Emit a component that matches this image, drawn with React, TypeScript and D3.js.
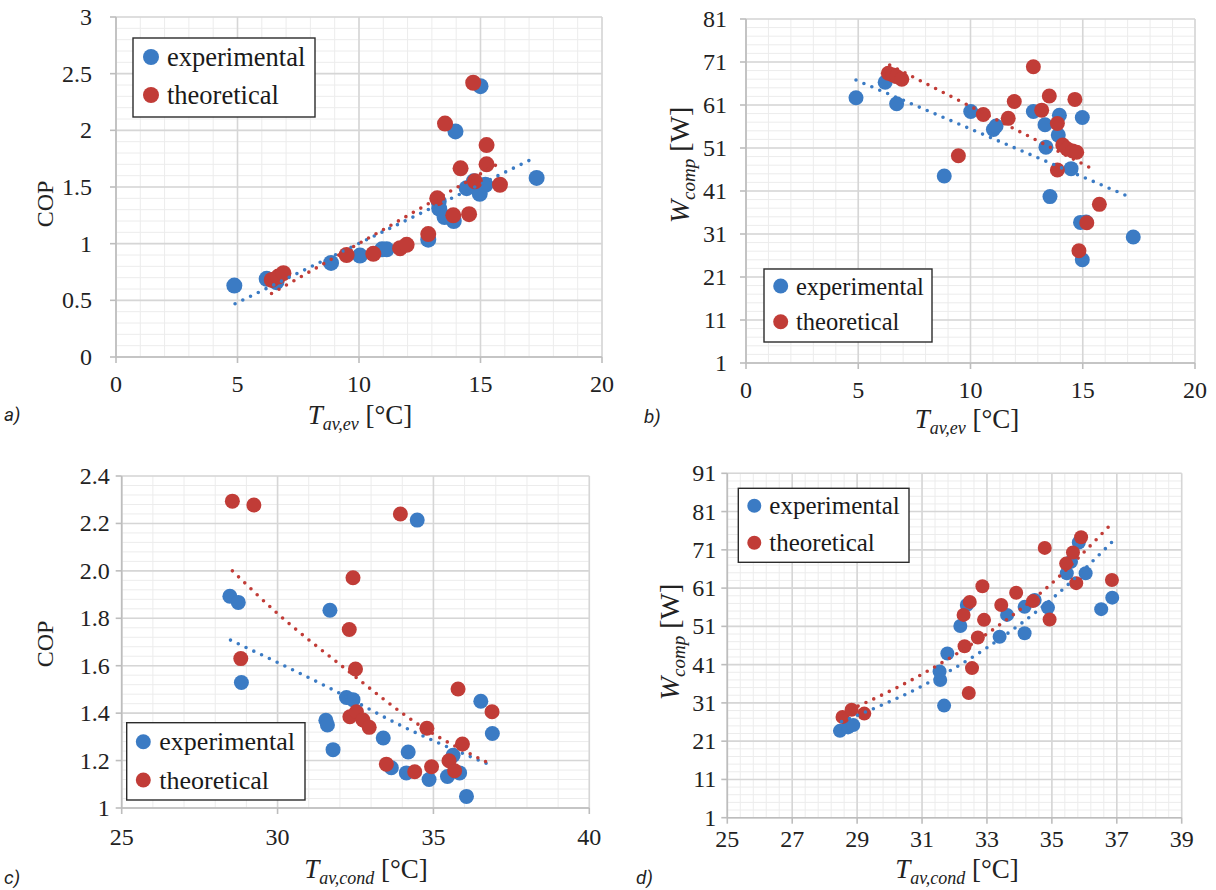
import React from "react";
import * as d3 from "d3";

// ---- panel a: COP vs T_av,ev ----
const aTevExp = [4.87, 6.2, 6.6, 8.85, 10.04, 10.95, 11.14, 12.85, 13.28, 13.3, 13.52, 13.9, 13.97, 14.43, 14.72, 14.97, 15.2, 15.0, 17.31];
const aCopExp = [0.63, 0.69, 0.66, 0.83, 0.895, 0.95, 0.95, 1.035, 1.37, 1.31, 1.235, 1.2, 1.99, 1.49, 1.55, 1.44, 1.52, 2.39, 1.58];
const aTevTheo = [6.41, 6.68, 6.89, 9.49, 10.59, 11.69, 11.96, 12.85, 13.22, 13.54, 13.88, 14.18, 14.53, 14.7, 14.77, 15.25, 15.25, 15.8];
const aCopTheo = [0.68, 0.71, 0.74, 0.9, 0.91, 0.96, 0.99, 1.085, 1.4, 2.06, 1.25, 1.665, 1.26, 2.42, 1.55, 1.7, 1.87, 1.52];
const aTrendExp: [number, number][] = [[4.9, 0.47], [17.25, 1.76]];
const aTrendTheo: [number, number][] = [[6.4, 0.56], [15.73, 1.705]];
const aXTicks = [0, 5, 10, 15, 20];
const aYTicks = [0, 0.5, 1, 1.5, 2, 2.5, 3];
const aYLabels = ["0", "0.5", "1", "1.5", "2", "2.5", "3"];

// ---- panel b: W_comp vs T_av,ev ----
const bTevExp = [4.9, 6.2, 6.71, 8.83, 10.01, 11.02, 11.14, 12.8, 13.32, 13.36, 13.54, 13.96, 13.91, 14.48, 14.98, 14.9, 15.15, 14.98, 17.25];
const bWExp = [62.7, 66.3, 61.3, 44.5, 59.5, 55.3, 56.1, 59.5, 56.4, 51.2, 39.7, 58.6, 54.0, 46.2, 58.1, 33.7, 33.8, 25.0, 30.3];
const bTevTheo = [6.34, 6.55, 6.71, 6.94, 9.46, 10.57, 11.68, 11.95, 12.8, 13.17, 13.51, 13.87, 14.11, 14.3, 13.87, 14.55, 14.73, 14.65, 15.18, 15.74, 14.83];
const bWTheo = [68.4, 68.0, 67.6, 67.0, 49.2, 58.8, 57.9, 61.8, 69.9, 59.8, 63.1, 56.7, 51.7, 50.8, 45.9, 50.3, 50.0, 62.3, 33.6, 37.9, 27.1];
const bTrendExp: [number, number][] = [[4.9, 66.8], [17.05, 39.7]];
const bTrendTheo: [number, number][] = [[6.4, 70.3], [15.6, 45.7]];
const bXTicks = [0, 5, 10, 15, 20];
const bYTicks = [1, 11, 21, 31, 41, 51, 61, 71, 81];
const bYLabels = ["1", "11", "21", "31", "41", "51", "61", "71", "81"];

// ---- panel c: COP vs T_av,cond ----
const cTcondExp = [28.47, 28.74, 28.84, 31.68, 31.55, 31.6, 31.78, 32.21, 32.42, 33.39, 33.65, 34.19, 34.13, 34.86, 35.45, 35.63, 35.84, 36.06, 36.52, 36.89, 34.48];
const cCopExp = [1.893, 1.867, 1.529, 1.834, 1.37, 1.35, 1.246, 1.466, 1.457, 1.295, 1.17, 1.236, 1.148, 1.12, 1.133, 1.222, 1.148, 1.049, 1.45, 1.314, 2.214];
const cTcondTheo = [28.55, 29.24, 28.82, 33.94, 32.42, 32.3, 32.5, 32.32, 32.53, 32.74, 32.94, 33.49, 34.4, 34.79, 34.94, 35.5, 35.68, 35.79, 35.93, 36.88];
const cCopTheo = [2.294, 2.278, 1.63, 2.24, 1.971, 1.753, 1.586, 1.385, 1.406, 1.371, 1.34, 1.185, 1.153, 1.336, 1.174, 1.199, 1.157, 1.502, 1.27, 1.406];
const cTrendExp: [number, number][] = [[28.49, 1.708], [31.68, 1.505], [34.03, 1.343], [36.7, 1.188]];
const cTrendTheo: [number, number][] = [[28.55, 2.0], [30, 1.82], [32.05, 1.6], [34.78, 1.33], [36.8, 1.188]];
const cXTicks = [25, 30, 35, 40];
const cYTicks = [1, 1.2, 1.4, 1.6, 1.8, 2.0, 2.2, 2.4];
const cYLabels = ["1", "1.2", "1.4", "1.6", "1.8", "2.0", "2.2", "2.4"];

// ---- panel d: W_comp vs T_av,cond ----
const dTcondExp = [28.47, 28.72, 28.88, 31.54, 31.56, 31.68, 31.78, 32.18, 32.38, 33.39, 33.62, 34.16, 34.16, 34.47, 34.88, 35.46, 35.59, 35.83, 36.04, 36.52, 36.86];
const dWExp = [23.7, 24.6, 25.2, 39.2, 37.0, 30.3, 43.9, 51.1, 56.6, 48.3, 54.0, 49.2, 56.1, 57.9, 55.9, 64.9, 67.9, 72.9, 64.9, 55.5, 58.5];
const dTcondTheo = [28.55, 28.83, 29.22, 32.86, 32.47, 32.28, 32.91, 32.72, 32.31, 32.54, 32.44, 33.44, 33.9, 34.42, 34.78, 34.93, 35.44, 35.65, 35.75, 35.9, 36.85];
const dWTheo = [27.3, 29.2, 28.2, 61.5, 57.4, 54.0, 52.7, 48.1, 45.8, 40.1, 33.6, 56.6, 59.8, 57.6, 71.5, 52.8, 67.4, 70.3, 62.3, 74.3, 63.1];
const dTrendExp: [number, number][] = [[28.52, 26.1], [31.0, 35.4], [32.98, 45.3], [35.03, 58.4], [36.86, 73.1]];
const dTrendTheo: [number, number][] = [[28.55, 28.3], [31.0, 38.5], [33.39, 51.4], [34.83, 61.0], [36.8, 77.5]];
const dXTicks = [25, 27, 29, 31, 33, 35, 37, 39];
const dYTicks = [1, 11, 21, 31, 41, 51, 61, 71, 81, 91];
const dYLabels = ["1", "11", "21", "31", "41", "51", "61", "71", "81", "91"];

const legendNames = ["experimental", "theoretical"];

const BLUE = "#3b7bc4";
const RED = "#c13c37";
// font set on each text element directly
const serif = { fontFamily: "Liberation Serif" };
const sans = { fontFamily: "Roboto" };

const zip = (xs: number[], ys: number[]) => xs.map((v, i) => [v, ys[i]] as [number, number]);

const panels = [
  {
    id: "a", label: "a)", labelPos: [4, 421],
    box: { left: 116, right: 602, top: 17, bottom: 357 },
    xDomain: [0, 20], yDomain: [0, 3], xMinor: 1, yMinor: 0.1,
    xTicks: aXTicks, yTicks: aYTicks, yLabels: aYLabels,
    exp: zip(aTevExp, aCopExp), theo: zip(aTevTheo, aCopTheo),
    trendExp: aTrendExp, trendTheo: aTrendTheo, r: 8,
    xLabelBase: 392, yLabelGap: 24,
    legend: { x: 133, y: 38, w: 182, h: 79, mx: 151, tx: 167, y1: 57, y2: 95, fs: 26.5 },
    xTitle: { x: 360, y: 424, main: "T", sub: "av,ev", unit: " [°C]" },
    yTitle: { x: 53, y: 204, main: "COP", sub: "", unit: "" },
  },
  {
    id: "b", label: "b)", labelPos: [644, 423],
    box: { left: 746, right: 1195, top: 19, bottom: 363 },
    xDomain: [0, 20], yDomain: [1, 81], xMinor: 1, yMinor: 2,
    xTicks: bXTicks, yTicks: bYTicks, yLabels: bYLabels,
    exp: zip(bTevExp, bWExp), theo: zip(bTevTheo, bWTheo),
    trendExp: bTrendExp, trendTheo: bTrendTheo, r: 7.5,
    xLabelBase: 398, yLabelGap: 19,
    legend: { x: 764, y: 269, w: 168, h: 73, mx: 780.7, tx: 796, y1: 286, y2: 321.7, fs: 24.5 },
    xTitle: { x: 967, y: 428, main: "T", sub: "av,ev", unit: " [°C]" },
    yTitle: { x: 689, y: 165, main: "W", sub: "comp", unit: " [W]" },
  },
  {
    id: "c", label: "c)", labelPos: [4, 884],
    box: { left: 121.7, right: 589.3, top: 476, bottom: 808 },
    xDomain: [25, 40], yDomain: [1, 2.4], xMinor: 1, yMinor: 0.04,
    xTicks: cXTicks, yTicks: cYTicks, yLabels: cYLabels,
    exp: zip(cTcondExp, cCopExp), theo: zip(cTcondTheo, cCopTheo),
    trendExp: cTrendExp, trendTheo: cTrendTheo, r: 7.5,
    xLabelBase: 845, yLabelGap: 12,
    legend: { x: 126.7, y: 722.7, w: 178.3, h: 77.3, mx: 143.3, tx: 159.3, y1: 741.7, y2: 780, fs: 26 },
    xTitle: { x: 366, y: 878, main: "T", sub: "av,cond", unit: " [°C]" },
    yTitle: { x: 53, y: 644, main: "COP", sub: "", unit: "" },
  },
  {
    id: "d", label: "d)", labelPos: [636, 884],
    box: { left: 727.3, right: 1181.7, top: 473.3, bottom: 817.7 },
    xDomain: [25, 39], yDomain: [1, 91], xMinor: 0.4, yMinor: 2,
    xTicks: dXTicks, yTicks: dYTicks, yLabels: dYLabels,
    exp: zip(dTcondExp, dWExp), theo: zip(dTcondTheo, dWTheo),
    trendExp: dTrendExp, trendTheo: dTrendTheo, r: 7,
    xLabelBase: 847, yLabelGap: 11,
    legend: { x: 738.3, y: 488.3, w: 170.7, h: 74, mx: 754.3, tx: 769.3, y1: 505.7, y2: 542.7, fs: 25 },
    xTitle: { x: 957, y: 878, main: "T", sub: "av,cond", unit: " [°C]" },
    yTitle: { x: 679, y: 642, main: "W", sub: "comp", unit: " [W]" },
  },
];

type PanelCfg = (typeof panels)[number];

const Panel = ({ cfg }: { cfg: PanelCfg }) => {
  const { box } = cfg;
  const x = d3.scaleLinear().domain(cfg.xDomain).range([box.left, box.right]);
  const y = d3.scaleLinear().domain(cfg.yDomain).range([box.bottom, box.top]);
  const xMinor = d3.range(cfg.xDomain[0], cfg.xDomain[1] + 1e-9, cfg.xMinor);
  const yMinor = d3.range(cfg.yDomain[0], cfg.yDomain[1] + 1e-9, cfg.yMinor);
  const line = d3
    .line<[number, number]>()
    .x((d) => x(d[0]))
    .y((d) => y(d[1]))
    .curve(d3.curveMonotoneX);
  const lg = cfg.legend;
  const isCop = cfg.yTitle.sub === "";

  return (
    <g id={`panel-${cfg.id}`}>
      {/* minor grid */}
      <g stroke="#ececec" strokeWidth={1}>
        {xMinor.map((v, i) => (
          <line key={`xm${i}`} x1={x(v)} x2={x(v)} y1={box.top} y2={box.bottom} />
        ))}
        {yMinor.map((v, i) => (
          <line key={`ym${i}`} x1={box.left} x2={box.right} y1={y(v)} y2={y(v)} />
        ))}
      </g>
      {/* major grid */}
      <g stroke="#d6d6d6" strokeWidth={1.6}>
        {cfg.xTicks.map((v) => (
          <line key={`xg${v}`} x1={x(v)} x2={x(v)} y1={box.top} y2={box.bottom} />
        ))}
        {cfg.yTicks.map((v) => (
          <line key={`yg${v}`} x1={box.left} x2={box.right} y1={y(v)} y2={y(v)} />
        ))}
      </g>
      {/* axes */}
      <g stroke="#bdbdbd" strokeWidth={1.6}>
        <line x1={box.left} x2={box.left} y1={box.top} y2={box.bottom} />
        <line x1={box.left} x2={box.right} y1={box.bottom} y2={box.bottom} />
        {cfg.xTicks.map((v) => (
          <line key={`xt${v}`} x1={x(v)} x2={x(v)} y1={box.bottom} y2={box.bottom + 6} />
        ))}
        {cfg.yTicks.map((v) => (
          <line key={`yt${v}`} x1={box.left - 6} x2={box.left} y1={y(v)} y2={y(v)} />
        ))}
      </g>
      {cfg.xTicks.map((v) => (
        <text key={`xl${v}`} x={x(v)} y={cfg.xLabelBase} textAnchor="middle" style={serif} fontSize={24} fill="#222">
          {v}
        </text>
      ))}
      {cfg.yTicks.map((v, i) => (
        <text key={`yl${v}`} x={box.left - cfg.yLabelGap} y={y(v) + 8} textAnchor="end" style={serif} fontSize={24} fill="#222">
          {cfg.yLabels[i]}
        </text>
      ))}
      {/* points */}
      <g fill={BLUE}>
        {cfg.exp.map((d, i) => (
          <circle key={`e${i}`} cx={x(d[0])} cy={y(d[1])} r={cfg.r} />
        ))}
      </g>
      <g fill={RED}>
        {cfg.theo.map((d, i) => (
          <circle key={`t${i}`} cx={x(d[0])} cy={y(d[1])} r={cfg.r} />
        ))}
      </g>
      {/* trend lines */}
      <path d={line(cfg.trendExp) || ""} fill="none" stroke={BLUE} strokeWidth={3.6} strokeLinecap="round" strokeDasharray="0 8.6" />
      <path d={line(cfg.trendTheo) || ""} fill="none" stroke={RED} strokeWidth={3.6} strokeLinecap="round" strokeDasharray="0 8.6" />
      {/* legend */}
      <rect x={lg.x} y={lg.y} width={lg.w} height={lg.h} fill="#fff" stroke="#2b2b2b" strokeWidth={1.4} />
      <circle cx={lg.mx} cy={lg.y1} r={cfg.r} fill={BLUE} />
      <circle cx={lg.mx} cy={lg.y2} r={cfg.r} fill={RED} />
      <text x={lg.tx} y={lg.y1 + 8.5} style={serif} fontSize={lg.fs} fill="#1a1a1a">{legendNames[0]}</text>
      <text x={lg.tx} y={lg.y2 + 8.5} style={serif} fontSize={lg.fs} fill="#1a1a1a">{legendNames[1]}</text>
      {/* axis titles */}
      <text x={cfg.xTitle.x} y={cfg.xTitle.y} textAnchor="middle" style={serif} fontSize={27} fill="#222">
        <tspan fontStyle="italic">{cfg.xTitle.main}</tspan>
        <tspan fontStyle="italic" fontSize={18} dy={6}>{cfg.xTitle.sub}</tspan>
        <tspan dy={-6}>{cfg.xTitle.unit}</tspan>
      </text>
      <text
        transform={`translate(${cfg.yTitle.x},${cfg.yTitle.y}) rotate(-90)`}
        textAnchor="middle"
        style={serif}
        fontSize={isCop ? 24 : 28}
        fill="#222"
      >
        {isCop ? (
          cfg.yTitle.main
        ) : (
          <>
            <tspan fontStyle="italic">{cfg.yTitle.main}</tspan>
            <tspan fontStyle="italic" fontSize={19} dy={6}>{cfg.yTitle.sub}</tspan>
            <tspan dy={-6}>{cfg.yTitle.unit}</tspan>
          </>
        )}
      </text>
      <text x={cfg.labelPos[0]} y={cfg.labelPos[1]} style={sans} fontStyle="italic" fontSize={19} fill="#222">
        {cfg.label}
      </text>
    </g>
  );
};

export default function App() {
  return (
    <div style={{ position: "absolute", left: 0, top: 0 }}>
      <svg width={1216} height={890} style={{ display: "block", background: "#fff" }}>
        {panels.map((p) => (
          <Panel key={p.id} cfg={p} />
        ))}
      </svg>
    </div>
  );
}
